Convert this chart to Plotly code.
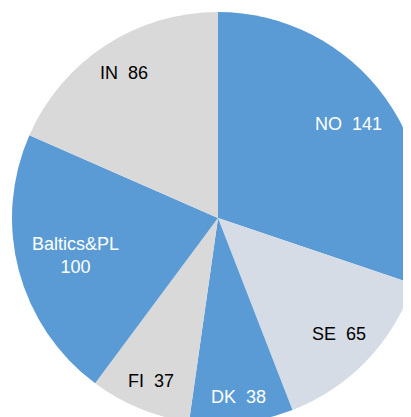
import math
import plotly.graph_objects as go

labels = ["NO", "SE", "DK", "FI", "Baltics&PL", "IN"]
values = [141, 65, 38, 37, 100, 86]
colors = ["#5B9BD5", "#D6DCE5", "#5B9BD5", "#D9D9D9", "#5B9BD5", "#D9D9D9"]
text_colors = ["white", "black", "white", "black", "white", "black"]

FONT_SIZE = 18
W = H = 420
M = 4
PLOT = W - 2 * M          # square plot area, pie fills it
R = PLOT / 2
LABEL_REACH = R - 12      # outer corner of label box sits this far from centre

# approximate Liberation Sans advance widths (em)
CW = {"N": .722, "O": .778, " ": .278, "\u00a0": .278, "1": .556, "4": .556,
      "S": .667, "E": .667, "6": .556, "5": .556, "D": .722, "K": .667,
      "3": .556, "8": .556, "F": .611, "I": .278, "7": .556, "B": .667,
      "a": .556, "l": .222, "t": .278, "i": .222, "c": .5, "s": .5,
      "&": .667, "P": .667, "L": .556, "0": .556}

texts = []
lines_list = []
for lab, v in zip(labels, values):
    if lab == "Baltics&PL":
        lines = [lab, str(v)]
    else:
        lines = [f"{lab}\u00a0 {v}"]
    lines_list.append(lines)
    texts.append("<br>".join(lines))

fig = go.Figure(go.Pie(
    labels=labels,
    values=values,
    textinfo="none",
    sort=False,
    direction="clockwise",
    marker=dict(colors=colors, line=dict(width=0)),
    hoverinfo="label+value",
    showlegend=False,
))

total = sum(values)
cum = 0.0
annotations = []
for lines, txt, v, tc in zip(lines_list, texts, values, text_colors):
    mid = (cum + v / 2) / total * 2 * math.pi
    cum += v
    ux, uy = math.sin(mid), -math.cos(mid)   # screen direction (y down)
    w = max(sum(CW.get(ch, .556) for ch in ln) for ln in lines) * FONT_SIZE
    h = len(lines) * FONT_SIZE * 1.0
    sx = math.copysign(w / 2, ux)
    sy = math.copysign(h / 2, uy)
    # solve |t*u + s| = LABEL_REACH
    b = 2 * (ux * sx + uy * sy)
    c = sx * sx + sy * sy - LABEL_REACH ** 2
    t = (-b + math.sqrt(b * b - 4 * c)) / 2
    annotations.append(dict(
        x=0.5 + t * ux / PLOT, y=0.5 - t * uy / PLOT,
        xref="paper", yref="paper", text=txt, showarrow=False,
        xanchor="center", yanchor="middle", align="center",
        font=dict(family="Liberation Sans, Arial", size=FONT_SIZE, color=tc),
    ))

fig.update_layout(
    width=W, height=H,
    margin=dict(l=M, r=M, t=M, b=M),
    paper_bgcolor="white",
    plot_bgcolor="white",
    annotations=annotations,
)

fig.write_html(
    "out.html",
    post_script="document.body.style.overflow='hidden';document.documentElement.style.overflow='hidden';",
)
